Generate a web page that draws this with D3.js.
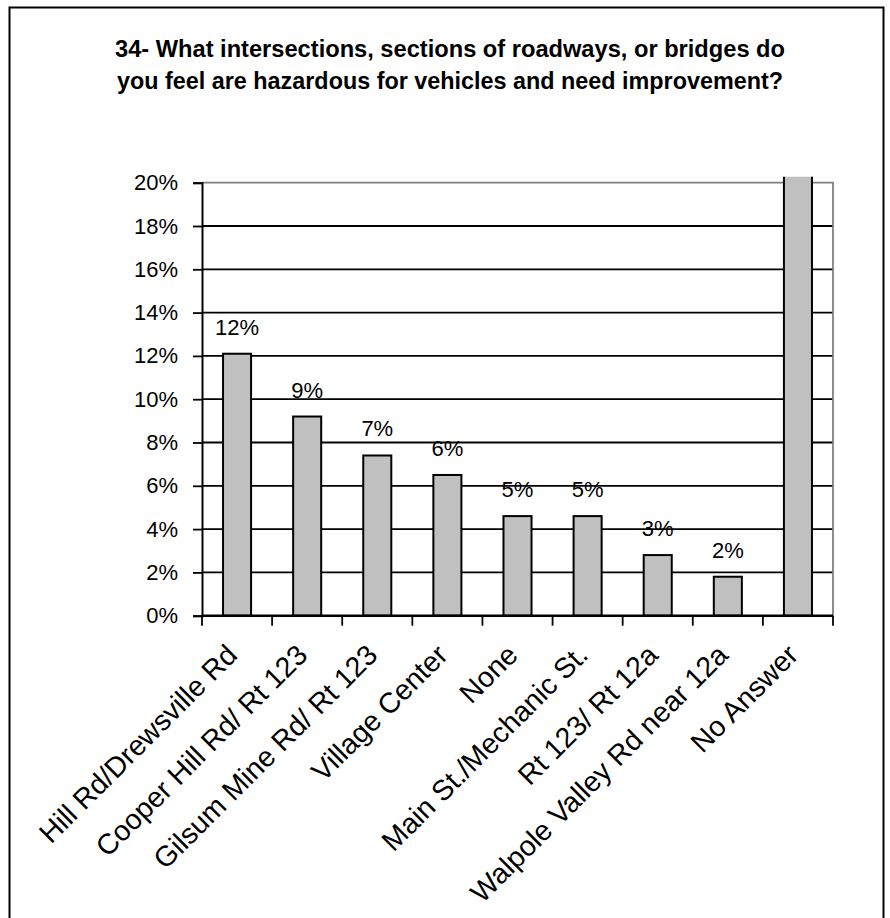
<!DOCTYPE html>
<html><head><meta charset="utf-8">
<script src="https://cdn.jsdelivr.net/npm/d3@7"></script>
<style>body{margin:0;background:#fff}svg{display:block}</style>
</head><body>
<svg id="chart" width="890" height="918"></svg>
<script>
const categories = ["Hill Rd/Drewsville Rd","Cooper Hill Rd/ Rt 123","Gilsum Mine Rd/ Rt 123","Village Center","None","Main St./Mechanic St.","Rt 123/ Rt 12a","Walpole Valley Rd near 12a","No Answer"];
const values = [12.1, 9.2, 7.4, 6.5, 4.6, 4.6, 2.8, 1.8, 45.0];
const dataLabels = ["12%","9%","7%","6%","5%","5%","3%","2%",""];
const yTicks = [0,2,4,6,8,10,12,14,16,18,20];
const titleLines = ["34- What intersections, sections of roadways, or bridges do","you feel are hazardous for vehicles and need improvement?"];

const FONT = "'Liberation Sans', Arial, sans-serif";
const svg = d3.select("#chart");
const pLeft = 202, pRight = 833, pTop = 182.7, pBottom = 615.7;

svg.append("rect").attr("x",9.5).attr("y",7.5).attr("width",874).attr("height",930)
  .attr("fill","#fff").attr("stroke","#000").attr("stroke-width",2);

// title
svg.selectAll("text.title").data(titleLines).join("text").attr("class","title")
  .attr("x",450).attr("y",(d,i)=>57+i*32)
  .attr("text-anchor","middle").attr("font-family",FONT).attr("font-weight","bold")
  .attr("font-size",23).attr("textLength",(d,i)=>i===0?670:666).attr("lengthAdjust","spacingAndGlyphs")
  .text(d=>d);

const x = d3.scaleBand().domain(categories).range([pLeft,pRight]).paddingInner(0.6).paddingOuter(0.3);
const y = d3.scaleLinear().domain([0,20]).range([pBottom,pTop]);

// gridlines
svg.append("g").selectAll("line").data(yTicks.filter(t=>t>0 && t<20)).join("line")
  .attr("x1",pLeft).attr("x2",pRight).attr("y1",d=>y(d)).attr("y2",d=>y(d))
  .attr("stroke","#000").attr("stroke-width",1.8);
// plot border top/right
svg.append("path").attr("d",`M${pLeft},${y(20)}H${pRight}V${pBottom}`).attr("fill","none")
  .attr("stroke","#808080").attr("stroke-width",1.8);

// bars
const defs = svg.append("defs");
defs.append("clipPath").attr("id","clip").append("rect")
  .attr("x",pLeft-5).attr("y",pTop-6).attr("width",pRight-pLeft+10).attr("height",pBottom-pTop+12);
svg.append("g").attr("clip-path","url(#clip)").selectAll("rect").data(categories).join("rect")
  .attr("x",d=>x(d)).attr("width",x.bandwidth())
  .attr("y",(d,i)=>y(values[i])).attr("height",(d,i)=>y(0)-y(values[i]))
  .attr("fill","#c0c0c0").attr("stroke","#000").attr("stroke-width",2);

// data labels
svg.append("g").selectAll("text").data(categories).join("text")
  .attr("x",d=>x(d)+x.bandwidth()/2).attr("y",(d,i)=>y(values[i])-19)
  .attr("text-anchor","middle").attr("font-family",FONT).attr("font-size",22)
  .text((d,i)=>dataLabels[i]);

// y axis
const yAxis = d3.axisLeft(y).tickValues(yTicks).tickFormat(d=>d+"%").tickSize(9).tickPadding(15);
const gy = svg.append("g").attr("transform",`translate(${pLeft},0)`).call(yAxis);
gy.select(".domain").attr("stroke","#000").attr("stroke-width",2);
gy.selectAll(".tick line").attr("stroke","#000").attr("stroke-width",1.8);
gy.selectAll(".tick text").attr("font-family",FONT).attr("font-size",22).attr("fill","#000");

// x axis
const step = x.step();
const bounds = d3.range(categories.length+1).map(i=>pLeft+i*step);
svg.append("line").attr("x1",pLeft).attr("x2",pRight).attr("y1",pBottom).attr("y2",pBottom)
  .attr("stroke","#000").attr("stroke-width",2.6);
svg.append("g").selectAll("line").data(bounds).join("line")
  .attr("x1",d=>d).attr("x2",d=>d).attr("y1",pBottom).attr("y2",pBottom+10)
  .attr("stroke","#000").attr("stroke-width",1.8);

// category labels
svg.append("g").selectAll("text").data(categories).join("text")
  .attr("transform",d=>`translate(${x(d)+x.bandwidth()/2+2},${pBottom+41}) rotate(-45)`)
  .attr("text-anchor","end").attr("font-family",FONT).attr("font-size",28.5)
  .text(d=>d);
</script>
</body></html>
